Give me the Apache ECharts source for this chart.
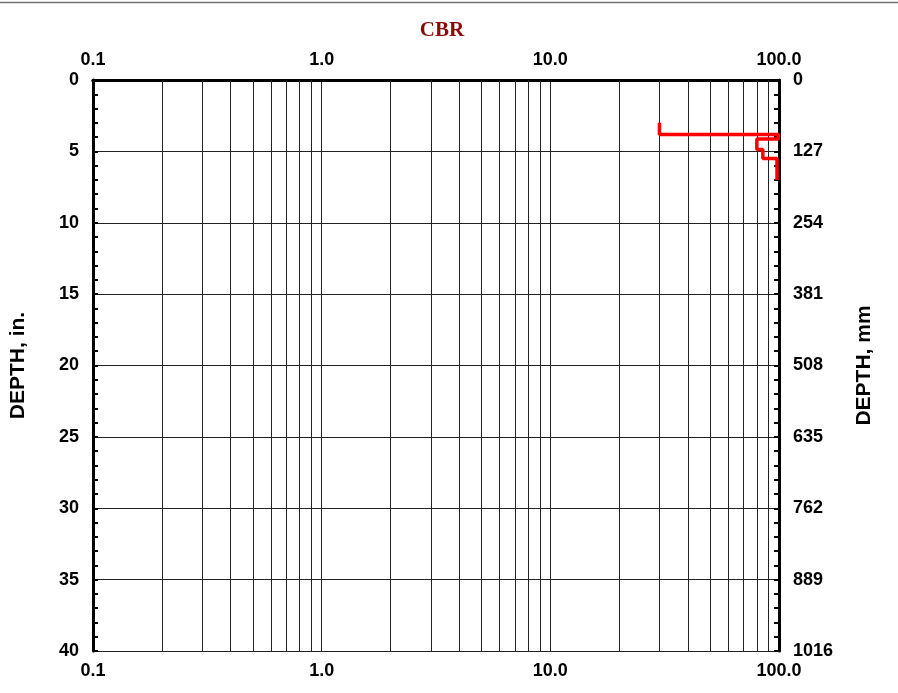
<!DOCTYPE html>
<html>
<head>
<meta charset="utf-8">
<script src="https://cdn.jsdelivr.net/npm/echarts@6/dist/echarts.min.js"></script>
<style>html,body{margin:0;padding:0;background:#fff;}#c{width:898px;height:693px;}</style>
</head>
<body>
<div id="c"></div>
<script>
// CBR profile (x = CBR %, y = depth in inches)
const cbrValues   = [30, 30, 99.5, 99.5, 80, 80, 85, 85, 98, 98];
const depthValues = [3.0, 3.82, 3.82, 4.13, 4.13, 4.87, 4.87, 5.5, 5.5, 7.0];
// minor log gridlines
const minorGridValues = [0.2,0.3,0.4,0.5,0.6,0.7,0.8,0.9, 2,3,4,5,6,7,8,9, 20,30,40,50,60,70,80,90];
const xMin = 0.1, xMax = 100;
const depthInMax = 40, depthInStep = 5;
const depthMmMax = 1016, depthMmStep = 127;

const chart = echarts.init(document.getElementById('c'), null, {renderer: 'canvas'});
const lblFont = {fontFamily: 'Liberation Sans, Arial, sans-serif', fontWeight: 'bold', fontSize: 18, color: '#000'};
const nameFont = {fontFamily: 'Liberation Sans, Arial, sans-serif', fontWeight: 'bold', fontSize: 21, color: '#000'};
const gridColor = '#222';

const xAxisBase = {
  type: 'log', logBase: 10, min: xMin, max: xMax,
  axisLine: {show: true, lineStyle: {color: '#000', width: 3}},
  axisTick: {show: false},
  splitLine: {show: true, lineStyle: {color: gridColor, width: 1}},
  axisLabel: Object.assign({formatter: v => Number(v).toFixed(1), showMinLabel: true, showMaxLabel: true, margin: 11}, lblFont)
};

const yAxisBase = {
  type: 'value', inverse: true, nameLocation: 'middle', nameRotate: 90,
  nameTextStyle: nameFont,
  axisLine: {show: true, lineStyle: {color: '#000', width: 3}},
  axisTick: {show: true, inside: true, length: 5, lineStyle: {color: '#000', width: 2}},
  minorTick: {show: true, splitNumber: 5, length: 5, lineStyle: {color: '#000', width: 2}},
  axisLabel: Object.assign({margin: 14, formatter: v => String(v), showMinLabel: true, showMaxLabel: true}, lblFont)
};

chart.setOption({
  animation: false,
  title: {
    text: 'CBR', left: 437, top: 15, textAlign: 'center',
    textStyle: {fontFamily: 'Liberation Serif, Times New Roman, serif', fontWeight: 'bold', fontSize: 21, color: '#8B0A0A'}
  },
  graphic: [{
    type: 'line', shape: {x1: 0, y1: 2.5, x2: 898, y2: 2.5},
    style: {stroke: '#707070', lineWidth: 1.5}, silent: true
  }],
  grid: {left: 92, right: 119, top: 80, bottom: 42, containLabel: false},
  xAxis: [
    Object.assign({}, xAxisBase, {position: 'top'}),
    Object.assign({}, xAxisBase, {position: 'bottom', splitLine: {show: false}})
  ],
  yAxis: [
    Object.assign({}, yAxisBase, {
      min: 0, max: depthInMax, interval: depthInStep, position: 'left',
      name: 'DEPTH, in.', nameGap: 64,
      splitLine: {show: true, lineStyle: {color: gridColor, width: 1}}
    }),
    Object.assign({}, yAxisBase, {
      min: 0, max: depthMmMax, interval: depthMmStep, position: 'right',
      name: 'DEPTH, mm', nameGap: 75,
      splitLine: {show: false}
    })
  ],
  series: [
    {
      type: 'line', xAxisIndex: 0, yAxisIndex: 0, data: [], z: 1, silent: true,
      markLine: {
        silent: true, symbol: ['none', 'none'], label: {show: false},
        lineStyle: {color: gridColor, width: 1, type: 'solid'},
        emphasis: {disabled: true},
        data: minorGridValues.map(v => ({xAxis: v}))
      }
    },
    {
      type: 'line', xAxisIndex: 0, yAxisIndex: 0, z: 5,
      data: cbrValues.map((v, i) => [v, depthValues[i]]),
      showSymbol: false, symbol: 'none',
      lineStyle: {color: '#ff0000', width: 3.5},
      clip: false
    }
  ]
});
</script>
</body>
</html>
